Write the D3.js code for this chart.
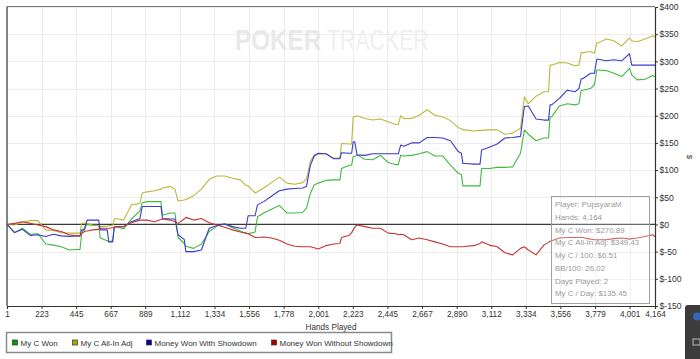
<!DOCTYPE html>
<html><head><meta charset="utf-8">
<script src="https://cdn.jsdelivr.net/npm/d3@7/dist/d3.min.js"></script>
<style>
body{margin:0;background:#fff;overflow:hidden;}
svg{display:block;font-family:"Liberation Sans",Arial,sans-serif;}
</style>
</head><body>
<svg id="chart" width="700" height="359"></svg>
<script>
// ---------- data ----------
const hands = [1,50,100,150,200,250,300,350,400,450,
  470,480,500,515,550,590,600,645,655,680,
  690,700,750,800,855,870,900,950,990,1000,
  1050,1080,1100,1140,1150,1200,1250,1300,1350,1400,
  1450,1500,1535,1550,1595,1610,1650,1700,1750,1800,
  1850,1900,1925,1950,1975,2000,2050,2100,2140,2150,
  2200,2215,2225,2235,2250,2300,2350,2400,2450,2500,
  2515,2530,2550,2600,2650,2700,2750,2800,2850,2900,
  2920,2930,2950,3000,3040,3050,3100,3150,3200,3250,
  3300,3325,3350,3400,3450,3480,3490,3500,3550,3600,
  3650,3675,3690,3700,3750,3775,3790,3800,3850,3900,
  3950,4000,4015,4050,4100,4150,4164];

const myCWon = [0,-15,-7,-18,-17,-36,-38,-41,-47,-46,
  -46,-18,-4,0,-2,-2,-25,-30,-32,-30,
  -5,-4,-8,10,25,40,42,42,42,17,
  21,21,-24,-35,-40,-44,-36,-13,-3,1,
  -6,-12,-16,-17,-14,14,21,28,35,21,
  21,22,30,57,73,76,81,82,82,103,
  109,109,125,125,128,120,119,127,114,110,
  110,127,126,127,130,134,126,126,109,94,
  92,71,71,71,71,103,103,105,105,106,
  131,174,166,154,159,159,198,198,218,222,
  220,222,247,247,250,257,284,284,283,278,
  272,287,275,266,267,274,271];

const myCAllInAdj = [0,-1,4,7,7,-10,-11,-15,-16,-16,
  -16,2,2,2,-1,-2,-4,-3,-2,-2,
  10,11,8,36,39,58,60,62,65,67,
  70,65,43,45,46,53,65,83,89,89,
  85,82,72,71,58,60,67,77,87,76,
  74,77,84,116,128,129,130,122,122,149,
  148,148,198,198,200,195,192,194,189,184,
  184,200,195,195,201,211,201,198,191,178,
  176,174,174,172,173,173,174,174,166,168,
  177,235,222,236,244,244,293,293,298,297,
  292,293,316,316,318,315,334,334,341,338,
  328,343,338,336,341,347,345];

const wonWithShowdown = [0,-15,-9,-20,-19,-22,-18,-21,-22,-21,
  -21,-10,-10,8,8,8,-10,-10,-32,-32,
  -5,-4,-4,5,11,33,33,33,33,11,
  10,10,-19,-28,-50,-50,-47,-7,-2,1,
  -4,-7,-7,16,16,36,42,52,62,65,
  66,67,70,109,126,131,130,121,121,132,
  131,131,152,152,128,127,130,130,130,130,
  130,146,144,150,150,160,160,159,154,134,
  131,112,112,111,111,137,142,148,159,160,
  162,217,218,194,192,192,220,220,232,247,
  244,250,268,268,278,278,304,304,301,303,
  301,314,293,293,293,293,293];

const wonWithoutShowdown = [0,2,5,2,-1,-4,-10,-13,-19,-21,
  -21,-16,-13,-12,-10,-9,-7,-7,-7,-6,
  -5,-4,-4,3,8,8,8,5,9,10,
  8,5,2,10,13,8,11,3,-1,-5,
  -10,-14,-16,-17,-24,-24,-23,-25,-29,-36,
  -40,-41,-41,-41,-43,-45,-39,-36,-35,-24,
  -20,-15,-10,-5,-1,-4,-7,-7,-16,-17,
  -19,-18,-19,-28,-25,-28,-32,-36,-41,-41,
  -41,-41,-40,-39,-35,-32,-38,-41,-52,-56,
  -44,-41,-47,-56,-38,-33,-31,-30,-25,-24,
  -24,-24,-24,-24,-27,-28,-28,-28,-28,-26,
  -25,-27,-26,-25,-22,-19,-23];

const seriesNames = ["My C Won","My C All-In Adj","Money Won With Showdown","Money Won Without Showdown"];
const lineColors = ["#3fba3f","#b9b93c","#3a3ad0","#c83434"];
const legendColors = ["#00a000","#a8a800","#0000a0","#a80000"];

const xTickValues = [1,223,445,667,889,1112,1334,1556,1778,2001,2223,2445,2667,2890,3112,3334,3556,3779,4001,4164];
const yTickValues = [-150,-100,-50,0,50,100,150,200,250,300,350,400];

const tooltipLines = ["Player: PupsyaraM","Hands: 4,164","My C Won: $270.89","My C All-In Adj: $349.43","My C / 100: $6.51","BB/100: 26.02","Days Played: 2","My C / Day: $135.45"];

// ---------- drawing ----------
const svg = d3.select("#chart");
const L = 7, R = 655, T = 7, B = 306;
const x = d3.scaleLinear().domain([1, 4164]).range([L, R]);
const y = d3.scaleLinear().domain([-150, 400]).range([B, T]);

// gridlines
const grid = svg.append("g");
grid.selectAll("line.v").data(xTickValues).join("line")
  .attr("x1", d => Math.round(x(d)) + 0.5).attr("x2", d => Math.round(x(d)) + 0.5)
  .attr("y1", T).attr("y2", B).attr("stroke", "#ececec").attr("stroke-width", 1);
grid.selectAll("line.h").data(yTickValues).join("line")
  .attr("x1", L).attr("x2", R)
  .attr("y1", d => Math.round(y(d)) + 0.5).attr("y2", d => Math.round(y(d)) + 0.5)
  .attr("stroke", "#ececec").attr("stroke-width", 1);

// watermark: two runs, each horizontally condensed by a transform
svg.append("g").attr("transform", "translate(235,50) scale(0.81,1)")
  .append("text").attr("font-size", 30).attr("font-weight", "bold").attr("fill", "#e9e9e9").text("POKER");
svg.append("g").attr("transform", "translate(327,50) scale(0.71,1)")
  .append("text").attr("font-size", 30).attr("fill", "#efefef").text("TRACKER");

// zero line
svg.append("line").attr("x1", L).attr("x2", R).attr("y1", y(0)).attr("y2", y(0))
  .attr("stroke", "#3a3a3a").attr("stroke-width", 1.3);

// series lines
const series = [myCWon, myCAllInAdj, wonWithShowdown, wonWithoutShowdown];
const line = d3.line().x((d, i) => x(hands[i])).y(d => y(d));
series.forEach((s, k) => {
  svg.append("path").datum(s).attr("d", line).attr("fill", "none")
    .attr("stroke", lineColors[k]).attr("stroke-width", 1.1).attr("stroke-linejoin", "round");
});

// frame: left + top border
svg.append("line").attr("x1", L).attr("x2", L).attr("y1", T - 0.5).attr("y2", B)
  .attr("stroke", "#555").attr("stroke-width", 1.4);
svg.append("line").attr("x1", L).attr("x2", R).attr("y1", T - 0.5).attr("y2", T - 0.5)
  .attr("stroke", "#777").attr("stroke-width", 1);

// x axis
const xAxis = d3.axisBottom(x).tickValues(xTickValues).tickSize(3).tickPadding(2)
  .tickFormat(d3.format(","));
const gx = svg.append("g").attr("transform", `translate(0,${B})`).call(xAxis);
gx.select(".domain").attr("stroke", "#333").attr("stroke-width", 1.2);
gx.selectAll(".tick line").attr("stroke", "#333");
gx.selectAll("text").attr("font-size", 8.2).attr("fill", "#333").attr("font-family", "Liberation Sans, Arial");

// y axis (right)
const yAxis = d3.axisRight(y).tickValues(yTickValues).tickSize(3).tickPadding(1.5)
  .tickFormat(d => "$" + d);
const gy = svg.append("g").attr("transform", `translate(${R},0)`).call(yAxis);
gy.select(".domain").attr("stroke", "#333").attr("stroke-width", 1.2);
gy.selectAll(".tick line").attr("stroke", "#333");
gy.selectAll("text").attr("font-size", 8.6).attr("fill", "#333").attr("font-family", "Liberation Sans, Arial");

// axis titles
svg.append("text").attr("x", 331).attr("y", 329.5).attr("text-anchor", "middle")
  .attr("font-size", 8.2).attr("fill", "#333").text("Hands Played");
svg.append("text").attr("transform", "translate(687,157) rotate(90)").attr("text-anchor", "middle")
  .attr("font-size", 8).attr("fill", "#333").text("$");

// tooltip box
const tip = svg.append("g");
tip.append("rect").attr("x", 551.5).attr("y", 196.5).attr("width", 98).attr("height", 107)
  .attr("fill", "rgba(255,255,255,0.25)").attr("stroke", "#a0a0a0").attr("stroke-width", 1);
tip.selectAll("text").data(tooltipLines).join("text")
  .attr("x", 555).attr("y", (d, i) => 207 + i * 12.75)
  .attr("font-size", 7.9).attr("fill", "#9a9a9a").text(d => d);

// legend
const lg = svg.append("g");
lg.append("rect").attr("x", 6.5).attr("y", 332.5).attr("width", 385).attr("height", 20)
  .attr("fill", "#fff").attr("stroke", "#8a8a8a").attr("stroke-width", 1.5);
const legendX = [12.5, 72.5, 146.5, 271.5];
seriesNames.forEach((n, k) => {
  lg.append("rect").attr("x", legendX[k]).attr("y", 340).attr("width", 5).attr("height", 5)
    .attr("fill", legendColors[k]).attr("stroke", "#333").attr("stroke-width", 0.7);
  lg.append("text").attr("x", legendX[k] + 8).attr("y", 345.6).attr("font-size", 8)
    .attr("fill", "#333").text(n);
});

// bottom-right window element
svg.append("rect").attr("x", 685).attr("y", 305).attr("width", 20).attr("height", 60).attr("rx", 3)
  .attr("fill", "#3c3c3c");
svg.append("circle").attr("cx", 697).attr("cy", 316.5).attr("r", 4).attr("fill", "#3166b8");
svg.append("rect").attr("x", 693).attr("y", 339).attr("width", 7).attr("height", 6)
  .attr("fill", "none").attr("stroke", "#bbb").attr("stroke-width", 1);
</script>
</body></html>
